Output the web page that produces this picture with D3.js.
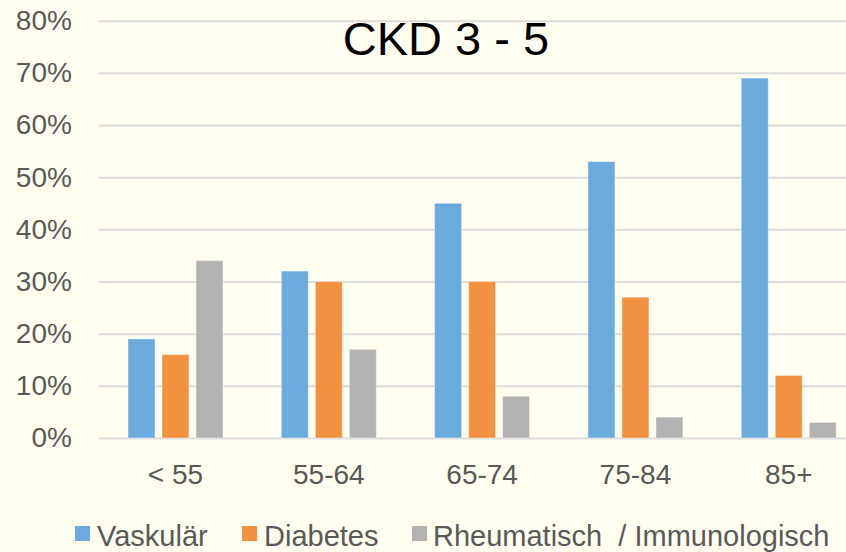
<!DOCTYPE html>
<html><head><meta charset="utf-8">
<script src="https://cdn.jsdelivr.net/npm/d3@7"></script>
<style>
html,body{margin:0;padding:0;background:#FFFEF0;}
svg{display:block;font-family:Arial,"Liberation Sans",sans-serif;}
</style></head>
<body>
<svg id="chart" width="846" height="552"></svg>
<script>
const categories = ["< 55", "55-64", "65-74", "75-84", "85+"];
const seriesNames = ["Vaskulär", "Diabetes", "Rheumatisch  / Immunologisch"];
const vaskular = [19, 32, 45, 53, 69];
const diabetes = [16, 30, 30, 27, 12];
const rheuma = [34, 17, 8, 4, 3];
const yTicks = [0, 10, 20, 30, 40, 50, 60, 70, 80];
const colors = ["#6AAADC", "#F29241", "#B2B2B2"];
const title = "CKD 3 - 5";

const seriesValues = [vaskular, diabetes, rheuma];
const svg = d3.select("#chart");
svg.append("rect").attr("width", 846).attr("height", 552).attr("fill", "#FFFEF0");

const plotLeft = 98.85, plotRight = 865.4, plotTop = 20.7, plotBottom = 438;
const y = d3.scaleLinear().domain([0, 80]).range([plotBottom, plotTop]);
const x0 = d3.scaleBand().domain(categories).range([plotLeft, plotRight]).padding(0);
const x1 = d3.scaleBand().domain(d3.range(3)).range([-51, 51]).paddingInner(0.206).paddingOuter(0.103);

// gridlines + y labels
const yAxis = d3.axisLeft(y).tickValues(yTicks).tickFormat(d => d + "%").tickSize(-(plotRight - plotLeft)).tickPadding(27);
const gy = svg.append("g").attr("transform", `translate(${plotLeft},0)`).call(yAxis);
gy.select(".domain").remove();
gy.selectAll(".tick line").attr("stroke", "#DCDCDC").attr("stroke-width", 2);
gy.selectAll(".tick text").attr("fill", "#595959").attr("font-size", 28).attr("font-family", "Arial, 'Liberation Sans', sans-serif");

// bars
const groups = svg.append("g").selectAll("g").data(categories).join("g")
  .attr("transform", c => `translate(${x0(c) + x0.bandwidth() / 2},0)`);
groups.selectAll("rect").data((c, i) => seriesValues.map((s, k) => ({k, v: s[i]}))).join("rect")
  .attr("x", d => x1(d.k))
  .attr("width", x1.bandwidth())
  .attr("y", d => y(d.v))
  .attr("height", d => y(0) - y(d.v))
  .attr("fill", d => colors[d.k])
  .attr("stroke", "rgba(255,255,255,0.45)")
  .attr("stroke-width", 1);

// x labels
const xAxis = d3.axisBottom(x0).tickSize(0).tickPadding(0);
const gx = svg.append("g").attr("transform", `translate(0,${plotBottom})`).call(xAxis);
gx.select(".domain").remove();
gx.selectAll(".tick text").attr("fill", "#595959").attr("font-size", 28)
  .attr("font-family", "Arial, 'Liberation Sans', sans-serif").attr("dy", 0).attr("y", 46);

// title
svg.append("text").attr("x", 446).attr("y", 55).attr("text-anchor", "middle")
  .attr("font-size", 47).attr("fill", "#000").text(title);

// legend
const legendX = [75, 242, 412];
const lg = svg.append("g").selectAll("g").data(seriesNames).join("g")
  .attr("transform", (d, i) => `translate(${legendX[i]},0)`);
lg.append("rect").attr("x", 0).attr("y", 526).attr("width", 15).attr("height", 15).attr("fill", (d, i) => colors[i]);
lg.append("text").attr("x", (d, i) => i === 2 ? 21 : 22).attr("y", 545.5).attr("font-size", 29).attr("fill", "#595959")
  .attr("xml:space", "preserve").style("white-space", "pre").text(d => d);
</script>
</body></html>
